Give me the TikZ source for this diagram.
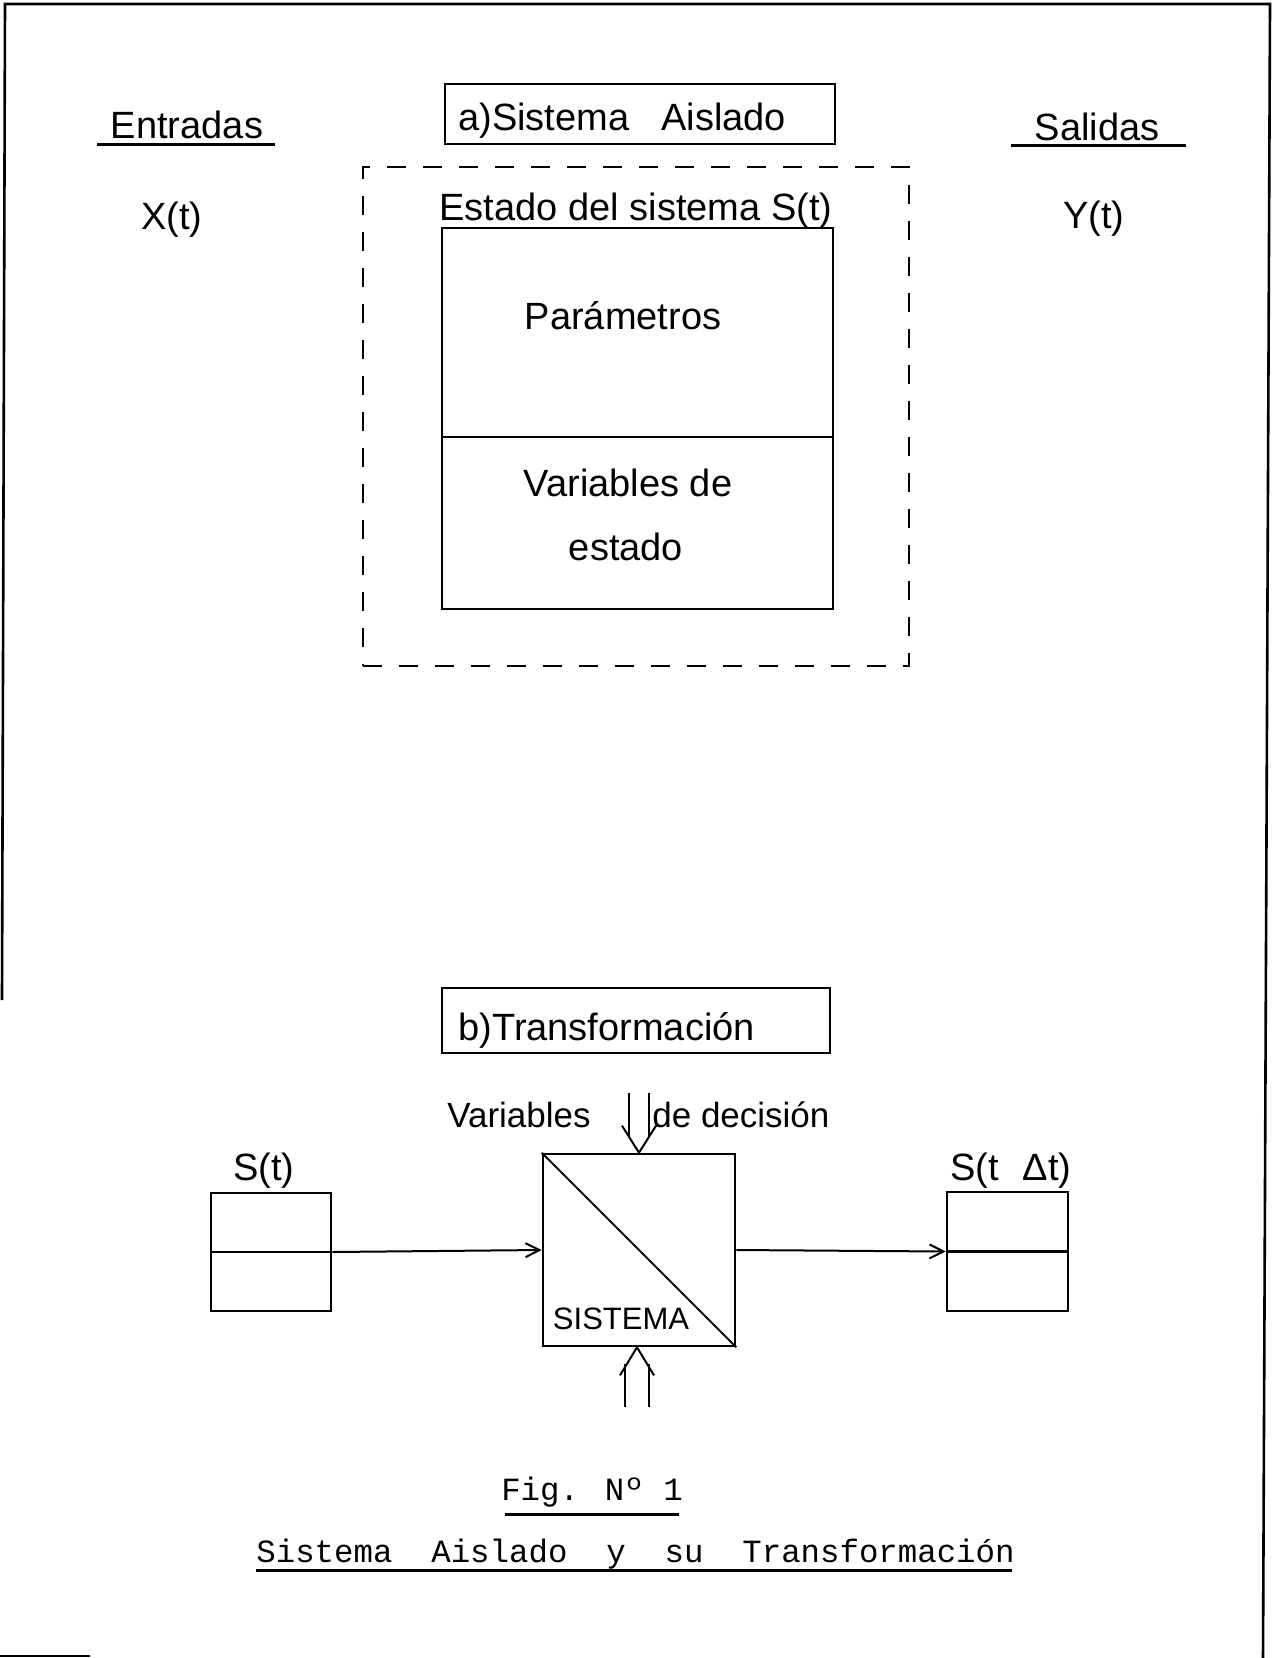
\documentclass[tikz,border=0pt]{standalone}
\usepackage{fontspec}
\setmainfont{Liberation Sans}
\newfontfamily\twfont{Liberation Mono}
\usetikzlibrary{arrows.meta}
\begin{document}
\begin{tikzpicture}[x=0.5pt,y=-0.5pt,
  frame/.style={line width=1.3pt},
  box/.style={draw, line width=1.3pt, inner sep=0pt},
  thin/.style={line width=1pt},
  lab/.style={inner sep=0pt, font=\fontsize{19}{23}\selectfont},
  labs/.style={inner sep=0pt, font=\fontsize{17.5}{21}\selectfont},
  small/.style={inner sep=0pt, font=\fontsize{15.5}{18}\selectfont},
  tw/.style={inner sep=0pt, font=\twfont\fontsize{16.2}{19}\selectfont},
  uline/.style={line width=1.5pt},
  flow/.style={thin, -{Straight Barb[length=7pt,width=7pt,line width=1pt]}},
  dblarrow/.style={line width=1pt, line join=miter}
]
\useasboundingbox (0,0) rectangle (1276,1658);

% page frame
\coordinate (ftl) at (5,4);
\coordinate (ftr) at (1270,4);
\coordinate (fbl) at (2,1000);
\coordinate (fbr) at (1263,1658);
\draw[frame] (fbl) -- (ftl) -- (ftr) -- (fbr);
\coordinate (cbl) at (0,1656);
\coordinate (cbr) at (90,1656);
\draw[frame] (cbl) -- (cbr);

% ---------- a) isolated system ----------
\node[box, minimum width=195pt, minimum height=30pt] (abox) at (640,114) {};
\node[lab, anchor=base west] (atext) at (458,131) {a)Sistema\hspace{16pt}Aislado};

\node[lab, anchor=base] (ent) at (187,139) {Entradas};
\draw[uline] (97,145) -- (275,145);
\node[lab, anchor=base] (sal) at (1097,141) {Salidas};
\draw[uline] (1011,146) -- (1186,146);

\node[lab] (xt) at (172,220) {X(t)};
\node[lab] (yt) at (1094,219) {Y(t)};

\node[draw, line width=1pt, dash pattern=on 9.5pt off 8.5pt, inner sep=0pt,
      minimum width=273pt, minimum height=249.5pt] (dash) at (636,416.5) {};

\node[lab, anchor=base] (estado) at (636,221) {Estado del sistema S(t)};

\node[box, minimum width=195.5pt, minimum height=190.5pt] (inner) at (637.5,418.5) {};
\coordinate (divl) at (442,437);
\coordinate (divr) at (833,437);
\draw[box] (divl) -- (divr);

\node[lab] (param) at (623,316) {Parámetros};
\node[lab] (vars) at (628,483) {Variables de};
\node[lab] (est) at (626,547) {estado};

% ---------- b) transformation ----------
\node[box, minimum width=194pt, minimum height=32.5pt] (bbox) at (636,1020.5) {};
\node[lab, anchor=west] (btext) at (458,1030) {b)Transformación};

\node[labs] (vdec1) at (519,1115) {Variables};
\node[labs, anchor=west] (vdec2) at (652,1115) {de decisión};

\node[box, minimum width=96pt, minimum height=96pt] (sis) at (639,1250) {};
\draw[thin] (sis.north west) -- (sis.south east);
\node[small] (sistxt) at (621,1319) {SISTEMA};

% decision variables entering from above (double-shafted arrow)
\draw[dblarrow] ([shift={(-10,-60)}]sis.north) -- ([shift={(-10,-16)}]sis.north);
\draw[dblarrow] ([shift={(10,-60)}]sis.north) -- ([shift={(10,-16)}]sis.north);
\draw[dblarrow] ([shift={(-17,-27)}]sis.north) -- (sis.north) -- ([shift={(17,-27)}]sis.north);

% double-shafted arrow entering from below
\draw[dblarrow] ([shift={(-14,60)}]sis.south) -- ([shift={(-14,17)}]sis.south);
\draw[dblarrow] ([shift={(10,60)}]sis.south) -- ([shift={(10,17)}]sis.south);
\draw[dblarrow] ([shift={(-19,28)}]sis.south) -- ([shift={(-2,0)}]sis.south) -- ([shift={(15,28)}]sis.south);

\node[box, minimum width=60pt, minimum height=59pt] (lbox) at (271,1252) {};
\draw[box] (lbox.west) -- (lbox.east);
\node[lab] (lst) at (264,1171) {S(t)};

\node[box, minimum width=60.5pt, minimum height=59.5pt] (rbox) at (1007.5,1251.5) {};
\draw[box] (rbox.west) -- (rbox.east);
\node[lab] (rst) at (1011,1171) {S(t\hspace{12pt}Δt)};

\draw[flow] (lbox.east) -- (sis.west);
\draw[flow] (sis.east) -- (rbox.west);

% ---------- caption ----------
\node[tw] (fig) at (592,1492) {Fig. Nº 1};
\draw[uline] (505,1514) -- (679,1514);
\node[tw, anchor=base west] (title) at (256,1562) {Sistema\ \ Aislado\ \ y\ \ su\ \ Transformación};
\draw[uline] (256,1570) -- (1012,1570);

\end{tikzpicture}
\end{document}
